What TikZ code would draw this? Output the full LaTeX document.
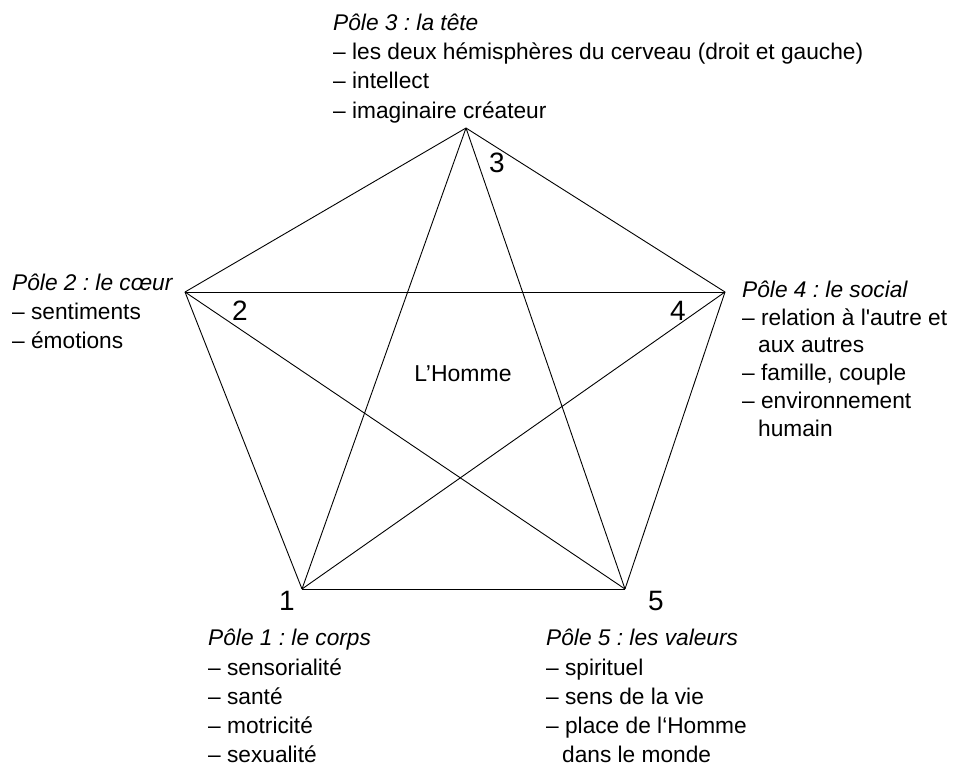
\documentclass[tikz,border=0pt]{standalone}
\usepackage{fontspec}
\setmainfont{Liberation Sans}[Ligatures=TeXOff]
\begin{document}
\frenchspacing
\begin{tikzpicture}[x=1pt,y=-1pt,
  edge/.style={line width=0.9pt},
  txt/.style={anchor=base west, inner sep=0pt, font=\fontsize{22.7}{26}\selectfont},
  ttl/.style={txt, font=\fontsize{22.7}{26}\selectfont\itshape},
  num/.style={inner sep=0pt, font=\fontsize{28}{30}\selectfont}]
\useasboundingbox (0,0) rectangle (955,765);
% vertices
\coordinate (p3) at (466,128);
\coordinate (p2) at (185,292);
\coordinate (p4) at (725,292);
\coordinate (p1) at (302,589);
\coordinate (p5) at (625,589);
% pentagon
\draw[edge] (p3) -- (p2);
\draw[edge] (p2) -- (p1);
\draw[edge] (p1) -- (p5);
\draw[edge] (p5) -- (p4);
\draw[edge] (p4) -- (p3);
% star
\draw[edge] (p3) -- (p1);
\draw[edge] (p3) -- (p5);
\draw[edge] (p2) -- (p4);
\draw[edge] (p2) -- (p5);
\draw[edge] (p4) -- (p1);
% vertex numbers
\node[num] (n3) at (497,163) {3};
\node[num] (n2) at (240,311) {2};
\node[num] (n4) at (678,311) {4};
\node[num] (n1) at (287,601) {1};
\node[num] (n5) at (656,601) {5};
\node[inner sep=0pt, font=\fontsize{23}{26}\selectfont] (homme) at (463,374) {L’Homme};
% pole 3
\node[ttl] (t3) at (333,31) {Pôle 3 : la tête};
\node[txt] (t3a) at (333,60) {– les deux hémisphères du cerveau (droit et gauche)};
\node[txt] (t3b) at (333,89) {– intellect};
\node[txt] (t3c) at (333,118) {– imaginaire créateur};
% pole 2
\node[ttl] (t2) at (12,290) {Pôle 2 : le cœur};
\node[txt] (t2a) at (12,319) {– sentiments};
\node[txt] (t2b) at (12,348) {– émotions};
% pole 4
\node[ttl] (t4) at (742,297) {Pôle 4 : le social};
\node[txt] (t4a) at (742,325) {– relation à l'autre et};
\node[txt] (t4b) at (758,352) {aux autres};
\node[txt] (t4c) at (742,380) {– famille, couple};
\node[txt] (t4d) at (742,408) {– environnement};
\node[txt] (t4e) at (758,436) {humain};
% pole 1
\node[ttl] (t1) at (208,645) {Pôle 1 : le corps};
\node[txt] (t1a) at (208,675) {– sensorialité};
\node[txt] (t1b) at (208,704) {– santé};
\node[txt] (t1c) at (208,733) {– motricité};
\node[txt] (t1d) at (208,762) {– sexualité};
% pole 5
\node[ttl] (t5) at (546,645) {Pôle 5 : les valeurs};
\node[txt] (t5a) at (546,675) {– spirituel};
\node[txt] (t5b) at (546,704) {– sens de la vie};
\node[txt] (t5c) at (546,733) {– place de l‘Homme};
\node[txt] (t5d) at (562,762) {dans le monde};
\end{tikzpicture}
\end{document}
